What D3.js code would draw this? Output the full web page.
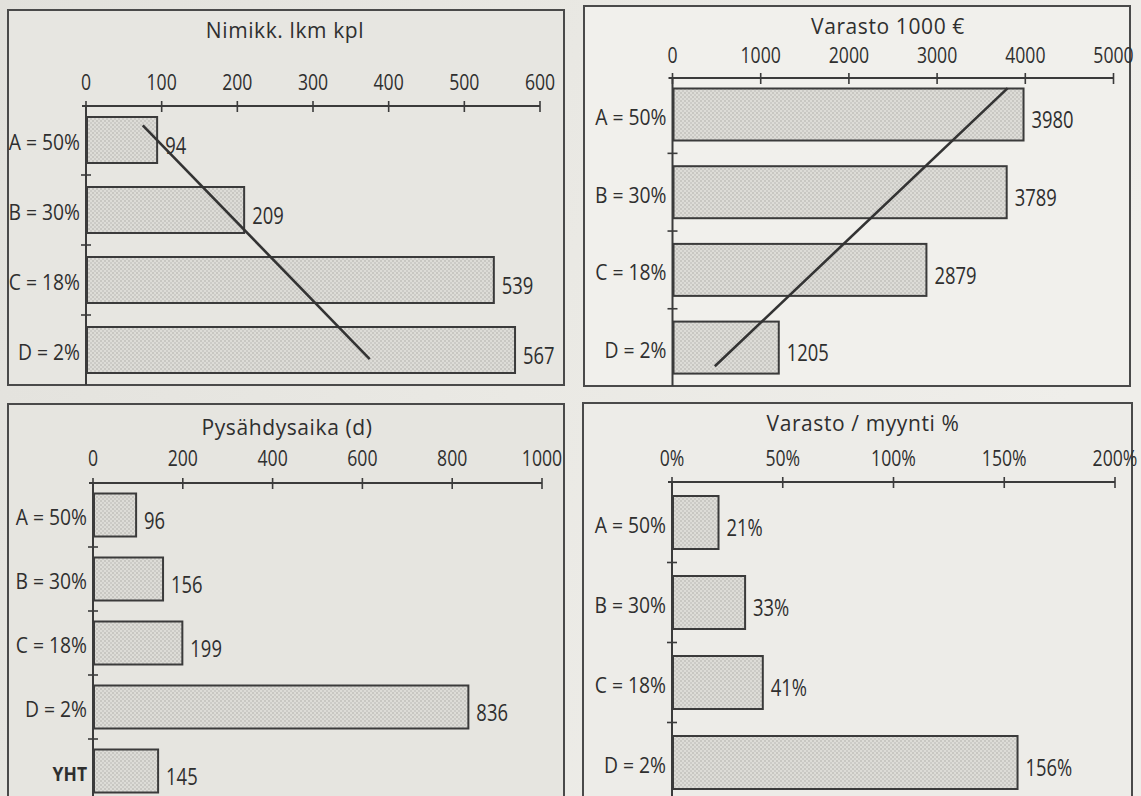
<!DOCTYPE html>
<html>
<head>
<meta charset="utf-8">
<script src="https://cdn.jsdelivr.net/npm/d3@7"></script>
<style>
  html, body { margin: 0; padding: 0; background: #e8e7e2; }
  svg { display: block; }
  text { font-family: "Open Sans", "Noto Sans", sans-serif; fill: #2f2f2f; }
</style>
</head>
<body>
<svg id="chart" width="1141" height="796"></svg>
<script>
// ABC classes
const classes = ["A = 50%", "B = 30%", "C = 18%", "D = 2%"];
const classesTotal = ["A = 50%", "B = 30%", "C = 18%", "D = 2%", "YHT"];

// Number of items per class
const itemCounts = [94, 209, 539, 567];
const itemTicks = [0, 100, 200, 300, 400, 500, 600];

// Stock value per class, 1000 €
const stockValues = [3980, 3789, 2879, 1205];
const stockTicks = [0, 1000, 2000, 3000, 4000, 5000];

// Stock holding time in days
const holdDays = [96, 156, 199, 836, 145];
const holdTicks = [0, 200, 400, 600, 800, 1000];

// Stock relative to sales, %
const stockSalesPct = [21, 33, 41, 156];
const pctTicks = [0, 50, 100, 150, 200];

// Hand-drawn trend lines: [value, class index] end points
const itemTrend = [[75, -0.21], [375, 3.13]];
const stockTrend = [[3800, -0.34], [480, 3.24]];

const svg = d3.select("#chart");
const W = 1141, H = 796;

// paper tone
const defs = svg.append("defs");
const bg = defs.append("linearGradient").attr("id", "paper")
  .attr("x1", 0).attr("y1", 0).attr("x2", 1).attr("y2", 0.3);
bg.append("stop").attr("offset", "0%").attr("stop-color", "#e2e1dc");
bg.append("stop").attr("offset", "55%").attr("stop-color", "#eae9e4");
bg.append("stop").attr("offset", "100%").attr("stop-color", "#efeeea");
svg.append("rect").attr("width", W).attr("height", H).attr("fill", "url(#paper)");

// stippled bar fill
const pat = defs.append("pattern").attr("id", "stipple")
  .attr("patternUnits", "userSpaceOnUse").attr("width", 4).attr("height", 4);
pat.append("rect").attr("width", 4).attr("height", 4).attr("fill", "#dddcd7");
pat.append("circle").attr("cx", 1).attr("cy", 1).attr("r", 0.7).attr("fill", "#a3a29e");
pat.append("circle").attr("cx", 3).attr("cy", 3).attr("r", 0.7).attr("fill", "#b0afab");

const ink = "#3b3b3b";

// narrow-set text: placed at (x, y), squeezed horizontally by sx
function narrowText(sel, x, y, sx) {
  return sel.attr("transform", (d, i) => {
    const px = typeof x === "function" ? x(d, i) : x;
    const py = typeof y === "function" ? y(d, i) : y;
    return `translate(${px},${py}) scale(${sx},1)`;
  });
}

function panel(cfg) {
  const g = svg.append("g");
  // frame
  g.append("rect")
    .attr("x", cfg.box[0]).attr("y", cfg.box[1])
    .attr("width", cfg.box[2] - cfg.box[0]).attr("height", cfg.box[3] - cfg.box[1])
    .attr("fill", cfg.fill).attr("stroke", "#4a4a4a").attr("stroke-width", 2);

  const x = d3.scaleLinear().domain(cfg.domain).range(cfg.xRange);
  const n = cfg.cats.length;
  const start = cfg.firstCenter - cfg.step / 2;
  const pad = 1 - cfg.barH / cfg.step;
  const y = d3.scaleBand().domain(cfg.cats)
    .range([start, start + n * cfg.step])
    .paddingInner(pad).paddingOuter(pad / 2);
  const yIdx = d3.scaleLinear().domain([0, 1]).range([cfg.firstCenter, cfg.firstCenter + cfg.step]);

  // title
  g.append("text")
    .attr("x", cfg.titleX).attr("y", cfg.titleY)
    .attr("text-anchor", "middle").attr("dominant-baseline", "central")
    .attr("font-size", 21).attr("letter-spacing", 0.6).text(cfg.title);

  // top value axis
  g.append("line")
    .attr("x1", x(cfg.domain[0]) - 4).attr("x2", x(cfg.domain[1]))
    .attr("y1", cfg.axisY).attr("y2", cfg.axisY)
    .attr("stroke", ink).attr("stroke-width", 2);
  g.selectAll(null).data(cfg.ticks).join("line")
    .attr("x1", d => x(d)).attr("x2", d => x(d))
    .attr("y1", cfg.axisY - 5).attr("y2", cfg.axisY + 6)
    .attr("stroke", ink).attr("stroke-width", 1.6);
  narrowText(g.selectAll(null).data(cfg.ticks).join("text"), d => x(d), cfg.labelY, 0.84)
    .attr("text-anchor", "middle").attr("dominant-baseline", "central")
    .attr("font-size", 21).text(cfg.fmt);

  // category axis
  g.append("line")
    .attr("x1", x(0)).attr("x2", x(0))
    .attr("y1", cfg.axisY).attr("y2", cfg.box[3])
    .attr("stroke", ink).attr("stroke-width", 2);
  const bounds = d3.range(1, n).map(i => start + i * cfg.step);
  g.selectAll(null).data(bounds).join("line")
    .attr("x1", x(0) - 5).attr("x2", x(0) + 5)
    .attr("y1", d => d).attr("y2", d => d)
    .attr("stroke", ink).attr("stroke-width", 1.6);
  narrowText(g.selectAll(null).data(cfg.cats).join("text"),
      x(0) - 6, d => y(d) + y.bandwidth() / 2 + 2, 0.92)
    .attr("text-anchor", "end").attr("dominant-baseline", "central")
    .style("font-weight", d => d === "YHT" ? 700 : 400)
    .attr("font-size", d => d === "YHT" ? 19 : 21)
    .text(d => d);

  // bars
  g.selectAll(null).data(cfg.values).join("rect")
    .attr("x", x(0) + 1).attr("y", (d, i) => y(cfg.cats[i]))
    .attr("width", d => x(d) - x(0) - 1).attr("height", y.bandwidth())
    .attr("fill", "url(#stipple)").attr("stroke", ink).attr("stroke-width", 2);

  // value labels
  narrowText(g.selectAll(null).data(cfg.values).join("text"),
      d => x(d) + 8, (d, i) => y(cfg.cats[i]) + y.bandwidth() / 2 + 5, 0.8)
    .attr("dominant-baseline", "central")
    .attr("font-size", 23).text(d => cfg.valFmt(d));

  // trend line
  if (cfg.trend) {
    g.append("path")
      .attr("d", d3.line().x(d => x(d[0])).y(d => yIdx(d[1]))(cfg.trend))
      .attr("fill", "none").attr("stroke", "#333").attr("stroke-width", 2.6);
  }
}

panel({
  box: [8, 10, 564, 385], fill: "#e7e6e1",
  title: "Nimikk. lkm kpl", titleX: 285, titleY: 30,
  domain: [0, 600], xRange: [86, 540], ticks: itemTicks, fmt: d => d,
  axisY: 106, labelY: 82,
  cats: classes, values: itemCounts, valFmt: d => d,
  firstCenter: 140, step: 70, barH: 46, trend: itemTrend
});

panel({
  box: [584, 6, 1130, 386], fill: "#f1f0ec",
  title: "Varasto 1000 €", titleX: 888, titleY: 26,
  domain: [0, 5000], xRange: [672.5, 1113.5], ticks: stockTicks, fmt: d => d,
  axisY: 78, labelY: 55,
  cats: classes, values: stockValues, valFmt: d => d,
  firstCenter: 114.5, step: 77.7, barH: 52, trend: stockTrend
});

panel({
  box: [8, 404, 564, 806], fill: "#e6e5e0",
  title: "Pysähdysaika (d)", titleX: 287, titleY: 427,
  domain: [0, 1000], xRange: [93, 542], ticks: holdTicks, fmt: d => d,
  axisY: 483, labelY: 458,
  cats: classesTotal, values: holdDays, valFmt: d => d,
  firstCenter: 515, step: 64, barH: 43
});

panel({
  box: [583, 403, 1132, 806], fill: "#edece8",
  title: "Varasto / myynti %", titleX: 863, titleY: 423,
  domain: [0, 200], xRange: [672, 1115], ticks: pctTicks, fmt: d => d + "%",
  axisY: 482, labelY: 458,
  cats: classes, values: stockSalesPct, valFmt: d => d + "%",
  firstCenter: 522.5, step: 80, barH: 53
});
</script>
</body>
</html>
